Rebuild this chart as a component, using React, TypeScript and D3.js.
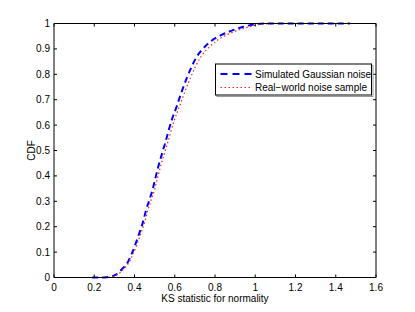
import React from "react";
import * as d3 from "d3";

const simX = [0.19, 0.25, 0.278, 0.3, 0.323, 0.34, 0.361, 0.386, 0.407, 0.424, 0.441, 0.456, 0.474, 0.49, 0.502, 0.518, 0.552, 0.585, 0.609, 0.634, 0.659, 0.684, 0.709, 0.742, 0.783, 0.833, 0.883, 0.941, 1.0, 1.06, 1.2, 1.47];
const simF = [0, 0, 0.003, 0.008, 0.02, 0.035, 0.053, 0.093, 0.136, 0.175, 0.215, 0.261, 0.306, 0.346, 0.385, 0.436, 0.528, 0.62, 0.672, 0.731, 0.784, 0.83, 0.869, 0.902, 0.932, 0.955, 0.972, 0.987, 0.997, 1, 1, 1];
const realX = [0.19, 0.26, 0.285, 0.307, 0.33, 0.347, 0.368, 0.393, 0.415, 0.432, 0.45, 0.465, 0.483, 0.5, 0.512, 0.529, 0.564, 0.598, 0.623, 0.65, 0.677, 0.703, 0.73, 0.765, 0.808, 0.858, 0.91, 0.97, 1.03, 1.09, 1.2, 1.51];
const realF = [0, 0, 0.003, 0.008, 0.02, 0.035, 0.053, 0.093, 0.136, 0.175, 0.215, 0.261, 0.306, 0.346, 0.385, 0.436, 0.528, 0.62, 0.672, 0.731, 0.784, 0.83, 0.869, 0.902, 0.932, 0.955, 0.972, 0.987, 0.997, 1, 1, 1];
const xTicks = [0, 0.2, 0.4, 0.6, 0.8, 1, 1.2, 1.4, 1.6];
const yTicks = [0, 0.1, 0.2, 0.3, 0.4, 0.5, 0.6, 0.7, 0.8, 0.9, 1];
const seriesNames = ["Simulated Gaussian noise", "Real\u2212world noise sample"];

const W = 415, H = 312;
const L = 54, R = 376, T = 23.5, B = 277.5;
const FONT = "'Liberation Sans', Arial, Helvetica, sans-serif";

export default function App() {
  const x = d3.scaleLinear().domain([0, 1.6]).range([L, R]);
  const y = d3.scaleLinear().domain([0, 1]).range([B, T]);
  const line = d3.line<[number, number]>().x(d => x(d[0])).y(d => y(d[1])).curve(d3.curveMonotoneX);
  const simPts = simX.map((v, i) => [v, simF[i]] as [number, number]);
  const realPts = realX.map((v, i) => [v, realF[i]] as [number, number]);
  const fmt = (v: number) => String(v);
  return (
    <svg width={W} height={H} style={{ position: "absolute", left: 0, top: 0, background: "#fff" }} fontFamily={FONT}>
      <rect x={0} y={0} width={W} height={H} fill="#fff" />
      <path d={line(simPts) || ""} fill="none" stroke="#0000ff" strokeWidth={2} strokeDasharray="6,4" />
      <path d={line(realPts) || ""} fill="none" stroke="#ff2020" strokeWidth={1.2} strokeDasharray="1.5,2.5" />
      {/* box */}
      <line x1={L} x2={R} y1={T} y2={T} stroke="#000" strokeWidth={1} />
      <line x1={R} x2={R} y1={T} y2={B} stroke="#000" strokeWidth={1} />
      <line x1={L} x2={R} y1={B} y2={B} stroke="#000" strokeWidth={1} />
      <line x1={L} x2={L} y1={T} y2={B} stroke="#808080" strokeWidth={2} />
      {xTicks.map(t => (
        <g key={"x" + t}>
          <line x1={x(t)} x2={x(t)} y1={B} y2={B - 3} stroke="#000" />
          <line x1={x(t)} x2={x(t)} y1={T} y2={T + 3} stroke="#000" />
          <text x={x(t)} y={290.5} fontSize={10} textAnchor="middle">{fmt(t)}</text>
        </g>
      ))}
      {yTicks.map(t => (
        <g key={"y" + t}>
          <line x1={L} x2={L + 3} y1={y(t)} y2={y(t)} stroke="#000" />
          <line x1={R} x2={R - 3} y1={y(t)} y2={y(t)} stroke="#000" />
          <text x={50} y={y(t) + 3.5} fontSize={10} textAnchor="end">{fmt(t)}</text>
        </g>
      ))}
      <text x={(L + R) / 2} y={302} fontSize={10} textAnchor="middle">KS statistic for normality</text>
      <text transform={`translate(35,${(T + B) / 2}) rotate(-90)`} fontSize={10} textAnchor="middle">CDF</text>
      {/* legend */}
      <rect x={217} y={65.5} width={156} height={31} fill="none" stroke="#999" strokeWidth={1} />
      <rect x={215.5} y={64} width={156} height={31} fill="#fff" stroke="#000" strokeWidth={1} />
      <line x1={220.5} x2={252} y1={74} y2={74} stroke="#0000ff" strokeWidth={2} strokeDasharray="7,5" />
      <line x1={220.5} x2={252} y1={87.5} y2={87.5} stroke="#ff2020" strokeWidth={1.2} strokeDasharray="1.5,2.5" />
      <text x={255} y={77.5} fontSize={10}>{seriesNames[0]}</text>
      <text x={255} y={91} fontSize={10}>{seriesNames[1]}</text>
    </svg>
  );
}
